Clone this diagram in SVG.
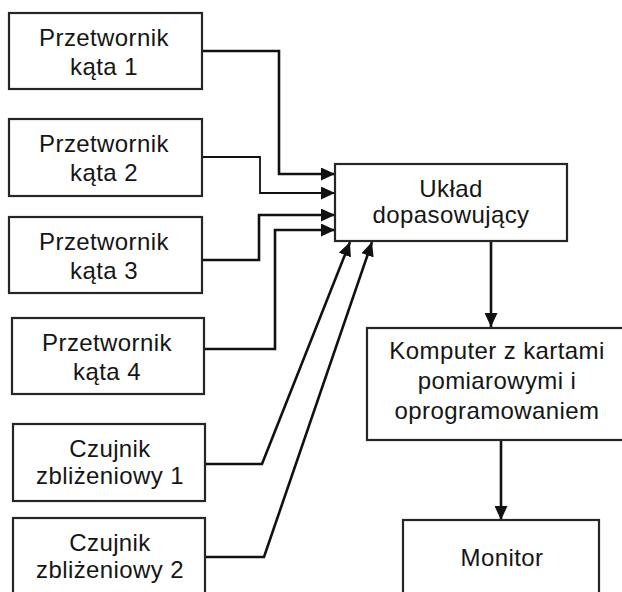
<svg xmlns="http://www.w3.org/2000/svg" width="622" height="592" viewBox="0 0 622 592">
<style>
.box{fill:#fff;stroke:#262626;stroke-width:2.2}
.lbl{font-family:"Liberation Sans",Arial,sans-serif;font-size:24px;letter-spacing:0.4px;fill:#151515;text-anchor:middle}
.wire{fill:none;stroke:#111;stroke-width:2.6}
.thin{stroke-width:1.8}
</style>
<defs>
<marker id="arr" markerUnits="userSpaceOnUse" markerWidth="15" markerHeight="13" refX="14" refY="6.5" orient="auto">
<path d="M0,0 L14,6.5 L0,13 z" fill="#111"/>
</marker>
</defs>
<rect width="622" height="592" fill="#fff"/>
<g id="connectors">
<polyline class="wire" points="202,51 279,51 279,174 335,174" marker-end="url(#arr)"/>
<polyline class="wire thin" points="202,157 260,157 260,193 335,193" marker-end="url(#arr)"/>
<polyline class="wire" points="202,260 259,260 259,215 335,215" marker-end="url(#arr)"/>
<polyline class="wire" points="204,349 275,349 275,230 335,230" marker-end="url(#arr)"/>
<polyline class="wire" points="205,464 262,464 350,242" marker-end="url(#arr)"/>
<polyline class="wire" points="205,557 264,557 372,242" marker-end="url(#arr)"/>
<line class="wire" x1="491" y1="241" x2="491" y2="327" marker-end="url(#arr)"/>
<line class="wire" x1="501" y1="440" x2="501" y2="520" marker-end="url(#arr)"/>
</g>
<g id="p1"><rect class="box" x="9" y="13" width="193" height="76"/><text class="lbl" x="104" y="46">Przetwornik</text><text class="lbl" x="104" y="75">kąta 1</text></g>
<g id="p2"><rect class="box" x="9" y="119" width="193" height="77"/><text class="lbl" x="104" y="152">Przetwornik</text><text class="lbl" x="104" y="181">kąta 2</text></g>
<g id="p3"><rect class="box" x="9" y="217" width="193" height="76"/><text class="lbl" x="104" y="250">Przetwornik</text><text class="lbl" x="104" y="279">kąta 3</text></g>
<g id="p4"><rect class="box" x="12" y="318" width="192" height="76"/><text class="lbl" x="107" y="351">Przetwornik</text><text class="lbl" x="107" y="380">kąta 4</text></g>
<g id="c1"><rect class="box" x="13" y="424" width="192" height="77"/><text class="lbl" x="110" y="457">Czujnik</text><text class="lbl" x="110" y="484">zbliżeniowy 1</text></g>
<g id="c2"><rect class="box" x="13" y="518" width="192" height="90"/><text class="lbl" x="110" y="551">Czujnik</text><text class="lbl" x="110" y="578">zbliżeniowy 2</text></g>
<g id="uklad"><rect class="box" x="335" y="164" width="232" height="77"/><text class="lbl" x="451" y="197">Układ</text><text class="lbl" x="451" y="223">dopasowujący</text></g>
<g id="komputer"><rect class="box" x="367" y="328" width="270" height="112"/><text class="lbl" x="497" y="359">Komputer z kartami</text><text class="lbl" x="497" y="389">pomiarowymi i</text><text class="lbl" x="497" y="419">oprogramowaniem</text></g>
<g id="monitor"><rect class="box" x="403" y="520" width="196" height="90"/><text class="lbl" x="502" y="566">Monitor</text></g>
</svg>
